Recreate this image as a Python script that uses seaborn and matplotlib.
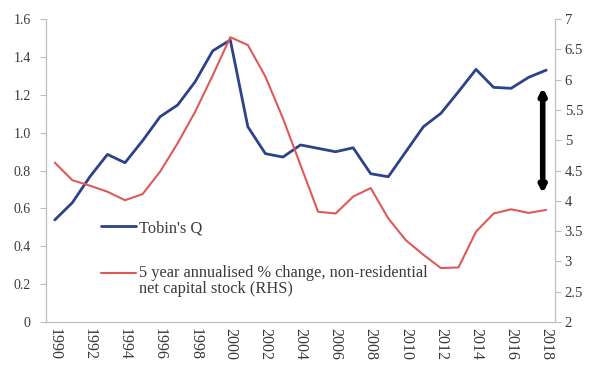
import numpy as np
import pandas as pd
import matplotlib
matplotlib.use("Agg")
import matplotlib.pyplot as plt
from matplotlib.legend_handler import HandlerLine2D
import seaborn as sns

years = list(range(1990, 2019))

tobins_q = [0.539, 0.630, 0.767, 0.885, 0.841, 0.957, 1.084, 1.146, 1.269, 1.432,
            1.489, 1.031, 0.889, 0.871, 0.935, 0.917, 0.899, 0.920, 0.783, 0.767,
            0.899, 1.031, 1.102, 1.216, 1.334, 1.239, 1.234, 1.292, 1.330]

capital_stock_growth = [4.63, 4.34, 4.25, 4.15, 4.01, 4.11, 4.48, 4.95, 5.47, 6.07,
                        6.70, 6.57, 6.05, 5.36, 4.59, 3.82, 3.79, 4.07, 4.21, 3.71,
                        3.35, 3.11, 2.89, 2.90, 3.49, 3.79, 3.86, 3.80, 3.85]

left_ticks = [0, 0.2, 0.4, 0.6, 0.8, 1.0, 1.2, 1.4, 1.6]
left_labels = ["0", "0.2", "0.4", "0.6", "0.8", "1.0", "1.2", "1.4", "1.6"]
right_ticks = [2, 2.5, 3, 3.5, 4, 4.5, 5, 5.5, 6, 6.5, 7]
right_labels = ["2", "2.5", "3", "3.5", "4", "4.5", "5", "5.5", "6", "6.5", "7"]
year_labels = [str(y) for y in years[::2]]

label_q = "Tobin's Q"
label_k = "5 year annualised % change, non-residential\nnet capital stock (RHS)"

# gap marker between the two series (RHS units)
gap_year = 2017.8
gap_low, gap_high = 4.12, 5.87

sns.set_theme(style="white")
plt.rcParams["font.family"] = ["Liberation Serif", "DejaVu Serif"]

df = pd.DataFrame({"year": years, "q": tobins_q, "k": capital_stock_growth})

blue = "#2D4288"
red = "#DE5A5A"
spine_c = "#BFBFBF"
text_c = "#3A3A3A"
leg_fs = 11.8


class FirstLineHandler(HandlerLine2D):
    """Legend handle placed level with the first line of a two-line label."""

    def __init__(self, shift, **kw):
        super().__init__(**kw)
        self.shift = shift

    def create_artists(self, legend, orig_handle, xdescent, ydescent,
                       width, height, fontsize, trans):
        arts = super().create_artists(legend, orig_handle, xdescent, ydescent,
                                      width, height, fontsize, trans)
        for a in arts:
            a.set_ydata(np.asarray(a.get_ydata(), dtype=float) + self.shift)
        return arts


fig = plt.figure(figsize=(5.9, 3.65), dpi=100)
ax = fig.add_axes([46 / 590, 43 / 365, 509 / 590, 303 / 365])
ax2 = ax.twinx()

sns.lineplot(data=df, x="year", y="q", ax=ax, color=blue, lw=2.0, legend=False)
sns.lineplot(data=df, x="year", y="k", ax=ax2, color=red, lw=1.5, legend=False)

ax.set_xlim(years[0] - 0.5, years[-1] + 0.5)
ax.set_ylim(0, 1.6)
ax2.set_ylim(2, 7)
ax.set_xlabel("")
ax.set_ylabel("")
ax2.set_ylabel("")

# category-style x axis: marks between years, labels on the years
ax.set_xticks(np.arange(years[0] - 0.5, years[-1], 2))
ax.set_xticklabels([])
ax.set_xticks(years[::2], minor=True)
ax.set_xticklabels(year_labels, minor=True, rotation=-90, fontsize=11.5, color=text_c)
ax.tick_params(axis="x", which="major", length=4, width=0.8, color=spine_c, direction="out")
ax.tick_params(axis="x", which="minor", length=0, pad=4)

ax.set_yticks(left_ticks)
ax.set_yticklabels(left_labels, fontsize=10, color=text_c)
ax.tick_params(axis="y", length=4, width=0.8, color=spine_c, direction="out", pad=7, left=True)

ax2.set_yticks(right_ticks)
ax2.set_yticklabels(right_labels, fontsize=10.5, color=text_c)
ax2.tick_params(axis="y", length=4, width=0.8, color=spine_c, direction="out", pad=3, right=True)

for a in (ax, ax2):
    a.grid(False)
    a.spines["top"].set_visible(False)
    for s in ("left", "right", "bottom"):
        a.spines[s].set_color(spine_c)
        a.spines[s].set_linewidth(0.9)
ax.spines["right"].set_visible(False)
ax2.spines["left"].set_visible(False)
ax2.spines["bottom"].set_visible(False)

ax2.annotate("", xy=(gap_year, gap_low), xytext=(gap_year, gap_high),
             arrowprops=dict(arrowstyle="<|-|>", color="black", lw=4,
                             mutation_scale=9, shrinkA=0, shrinkB=0))

line_q = ax.get_lines()[0]
line_k = ax2.get_lines()[0]
leg = ax2.legend([line_q, line_k], [label_q, label_k], loc="upper left",
                 bbox_to_anchor=(0.095, 0.358), frameon=False, fontsize=leg_fs,
                 handlelength=2.15, handletextpad=0.15, labelspacing=1.75,
                 borderaxespad=0, labelcolor=text_c,
                 handler_map={line_k: FirstLineHandler(shift=0.5 * leg_fs)})
for t in leg.get_texts():
    t.set_linespacing(1.0)

fig.savefig("out.png", dpi=100, facecolor="white")
